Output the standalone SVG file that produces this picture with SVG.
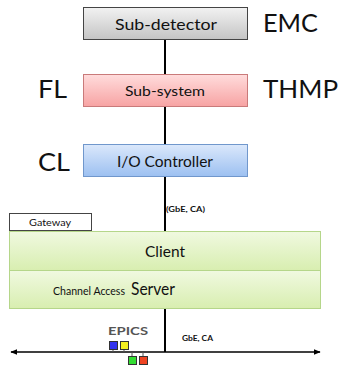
<svg xmlns="http://www.w3.org/2000/svg" width="340" height="366" viewBox="0 0 340 366">
  <defs>
    <linearGradient id="gGray" x1="0" y1="0" x2="0" y2="1">
      <stop offset="0" stop-color="#f2f2f2"/>
      <stop offset="1" stop-color="#c4c4c4"/>
    </linearGradient>
    <linearGradient id="gRed" x1="0" y1="0" x2="0" y2="1">
      <stop offset="0" stop-color="#ffdcdc"/>
      <stop offset="1" stop-color="#f7a3a3"/>
    </linearGradient>
    <linearGradient id="gBlue" x1="0" y1="0" x2="0" y2="1">
      <stop offset="0" stop-color="#dbe8fb"/>
      <stop offset="1" stop-color="#9cc0f1"/>
    </linearGradient>
    <linearGradient id="gGreen" x1="0" y1="0" x2="0" y2="1">
      <stop offset="0" stop-color="#f0f9e0"/>
      <stop offset="1" stop-color="#d8eeb0"/>
    </linearGradient>
    <marker id="arr" viewBox="0 0 10 10" refX="9" refY="5" markerWidth="7" markerHeight="7" orient="auto-start-reverse" markerUnits="userSpaceOnUse">
      <path d="M0,1 L10,5 L0,9 Z" fill="#000"/>
    </marker>
  </defs>
  <style>
    text { font-family: Lato, "Open Sans", "Liberation Sans", sans-serif; fill: #111; }
    .big { font-size: 25px; }
    .lbl { font-size: 15px; }
    .small { font-size: 7px; font-weight: bold; }
    .link { stroke: #000; stroke-width: 2; fill: none; }
    .green { fill: url(#gGreen); stroke: #b5d68a; stroke-width: 1; }
  </style>

  <rect width="340" height="366" fill="#fff"/>

  <g id="connectors">
    <line class="link" x1="165" y1="40" x2="165" y2="231"/>
    <line class="link" x1="165" y1="309" x2="165" y2="352"/>
    <line x1="11" y1="352" x2="320" y2="352" stroke="#000" stroke-width="1.7" marker-start="url(#arr)" marker-end="url(#arr)"/>
    <text class="small" x="166" y="212" textLength="39" lengthAdjust="spacingAndGlyphs">(GbE, CA)</text>
    <text class="small" x="182" y="341" textLength="31" lengthAdjust="spacingAndGlyphs">GbE, CA</text>
  </g>

  <g id="sub-detector">
    <rect x="83.5" y="7.5" width="164" height="32" fill="url(#gGray)" stroke="#444" stroke-width="1"/>
    <text class="lbl" x="115" y="30" textLength="102" lengthAdjust="spacingAndGlyphs">Sub-detector</text>
  </g>
  <text class="big" x="263" y="32" textLength="55" lengthAdjust="spacingAndGlyphs">EMC</text>

  <g id="sub-system">
    <rect x="83.5" y="74.5" width="164" height="32" fill="url(#gRed)" stroke="#c97a7a" stroke-width="1"/>
    <text x="125" y="96" style="font-size:13px" textLength="80" lengthAdjust="spacingAndGlyphs">Sub-system</text>
  </g>
  <text class="big" x="38" y="98" textLength="29" lengthAdjust="spacingAndGlyphs">FL</text>
  <text class="big" x="263" y="98" textLength="75" lengthAdjust="spacingAndGlyphs">THMP</text>

  <g id="io-controller">
    <rect x="83.5" y="144.5" width="164" height="32" fill="url(#gBlue)" stroke="#7097cc" stroke-width="1"/>
    <text x="117" y="167" style="font-size:15px" textLength="96" lengthAdjust="spacingAndGlyphs">I/O Controller</text>
  </g>
  <text class="big" x="38" y="171" textLength="32" lengthAdjust="spacingAndGlyphs">CL</text>

  <g id="gateway">
    <rect x="9.5" y="213.5" width="82" height="17" fill="#fff" stroke="#444" stroke-width="1"/>
    <text x="29" y="226" style="font-size:10px" textLength="42" lengthAdjust="spacingAndGlyphs">Gateway</text>
  </g>

  <g id="client">
    <rect class="green" x="9.5" y="231.5" width="311" height="39"/>
    <text x="145" y="257" style="font-size:16px" textLength="40" lengthAdjust="spacingAndGlyphs">Client</text>
  </g>

  <g id="server">
    <rect class="green" x="9.5" y="270.5" width="311" height="38"/>
    <text x="53" y="295" style="font-size:11px" textLength="72" lengthAdjust="spacingAndGlyphs">Channel Access</text>
    <text x="131" y="295" style="font-size:17px" textLength="44" lengthAdjust="spacingAndGlyphs">Server</text>
  </g>

  <g id="epics">
    <text x="108" y="335" style="font-size:12px; font-weight:bold; fill:#555" textLength="40" lengthAdjust="spacingAndGlyphs">EPICS</text>
    <line x1="113" y1="350" x2="113" y2="352" stroke="#555" stroke-width="1"/>
    <line x1="124" y1="350" x2="124" y2="352" stroke="#555" stroke-width="1"/>
    <line x1="132" y1="352" x2="132" y2="356" stroke="#555" stroke-width="1"/>
    <line x1="143" y1="352" x2="143" y2="356" stroke="#555" stroke-width="1"/>
    <rect x="109.5" y="341.5" width="8" height="8" fill="#3333ee" stroke="#333" stroke-width="1"/>
    <rect x="120.5" y="341.5" width="8" height="8" fill="#f4f020" stroke="#333" stroke-width="1"/>
    <rect x="128.5" y="356.5" width="8" height="8" fill="#33dd33" stroke="#333" stroke-width="1"/>
    <rect x="139.5" y="356.5" width="8" height="8" fill="#ee4422" stroke="#333" stroke-width="1"/>
  </g>
</svg>
